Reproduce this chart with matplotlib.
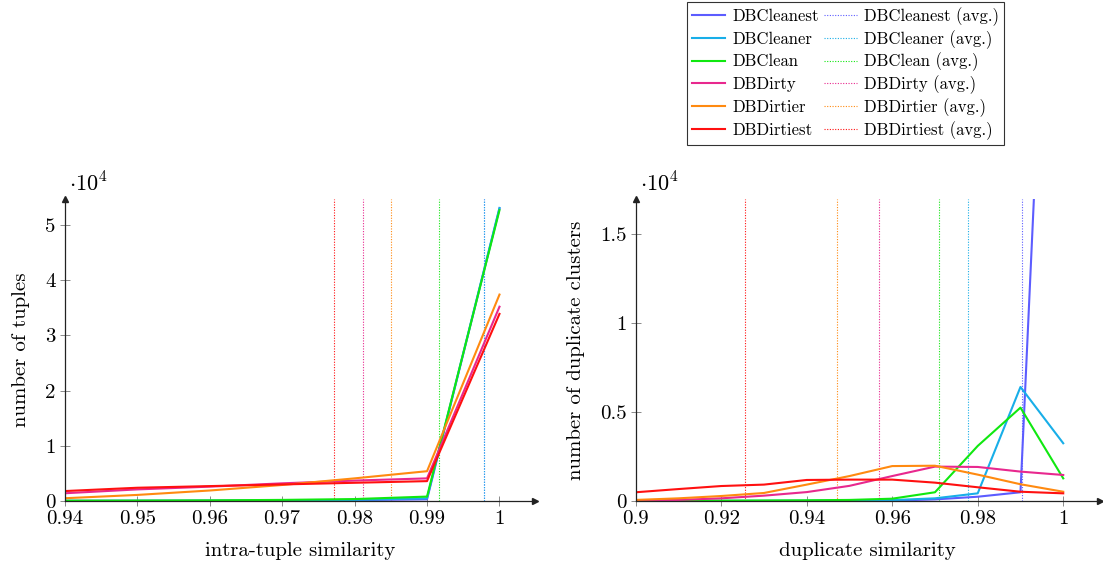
import matplotlib
matplotlib.use("Agg")
import matplotlib.pyplot as plt
from matplotlib.lines import Line2D

plt.rcParams["font.family"] = ["cmr10", "DejaVu Serif"]
plt.rcParams["mathtext.fontset"] = "cm"
plt.rcParams["axes.formatter.use_mathtext"] = True

# ---- data -------------------------------------------------------------
series = ["DBCleanest", "DBCleaner", "DBClean", "DBDirty", "DBDirtier", "DBDirtiest"]
colors = ["#5c5cff", "#18aee8", "#10e810", "#e8288e", "#ff8a10", "#ff1010"]

# intra-tuple similarity -> number of tuples
x_tuple = [0.94, 0.95, 0.96, 0.97, 0.98, 0.99, 1.00]
tuples_cleanest = [20, 30, 50, 80, 150, 300, 53000]
tuples_cleaner = [30, 40, 60, 100, 200, 500, 53100]
tuples_clean = [60, 80, 120, 200, 350, 800, 52700]
tuples_dirty = [1400, 2100, 2600, 3200, 3700, 4100, 35200]
tuples_dirtier = [500, 1100, 1900, 2900, 4100, 5400, 37400]
tuples_dirtiest = [1800, 2400, 2700, 3000, 3300, 3600, 33900]
tuples_avg = [0.9979, 0.9979, 0.9917, 0.9812, 0.9850, 0.9772]

# duplicate similarity -> number of duplicate clusters
x_dup = [0.90, 0.91, 0.92, 0.93, 0.94, 0.95, 0.96, 0.97, 0.98, 0.99, 1.00]
dup_cleanest = [0, 0, 0, 0, 0, 10, 20, 90, 240, 490, 53000]
dup_cleaner = [10, 10, 10, 10, 20, 30, 50, 150, 430, 6400, 3240]
dup_clean = [20, 20, 20, 30, 40, 60, 130, 490, 3090, 5240, 1270]
dup_dirty = [20, 60, 150, 300, 500, 850, 1400, 1930, 1910, 1650, 1460]
dup_dirtier = [60, 150, 280, 450, 920, 1400, 1960, 1980, 1480, 940, 520]
dup_dirtiest = [490, 670, 840, 920, 1180, 1200, 1200, 1030, 770, 520, 430]
dup_avg = [0.9903, 0.9777, 0.9709, 0.9569, 0.9471, 0.9255]

left_xticks = [0.94, 0.95, 0.96, 0.97, 0.98, 0.99, 1.00]
left_xticklabels = ["0.94", "0.95", "0.96", "0.97", "0.98", "0.99", "1"]
left_yticks = [0, 1, 2, 3, 4, 5]
right_xticks = [0.90, 0.92, 0.94, 0.96, 0.98, 1.00]
right_xticklabels = ["0.9", "0.92", "0.94", "0.96", "0.98", "1"]
right_yticks = [0, 0.5, 1, 1.5]
right_yticklabels = ["0", "0.5", "1", "1.5"]

# ---- figure -----------------------------------------------------------
W, H = 1103, 568
DPI = 100
fig = plt.figure(figsize=(W / DPI, H / DPI), dpi=DPI)

ax1 = fig.add_axes([64.7 / W, 1 - 501 / H, (535 - 64.7) / W, (501 - 199.3) / H])
ax2 = fig.add_axes([635.7 / W, 1 - 501 / H, (1100 - 635.7) / W, (501 - 199.3) / H])

fs = 15
dot = (0, (1, 1.4))


def style_axis(ax, xlim, ylim):
    ax.set_xlim(*xlim)
    ax.set_ylim(*ylim)
    for s in ["top", "right"]:
        ax.spines[s].set_visible(False)
    for s in ["left", "bottom"]:
        ax.spines[s].set_linewidth(0.9)
        ax.spines[s].set_color("#222222")
    ax.tick_params(direction="inout", length=7, width=0.6, color="#777777",
                   labelsize=fs, pad=3)
    # arrow heads at the end of each axis line
    ax.plot(1, 0, ">", color="#222222", markersize=5, transform=ax.transAxes,
            clip_on=False)
    ax.plot(0, 1, "^", color="#222222", markersize=5, transform=ax.transAxes,
            clip_on=False)
    ax.text(0.01, 1.012, r"$\cdot 10^4$", transform=ax.transAxes, fontsize=fs + 1,
            ha="left", va="bottom")


left_data = [tuples_cleanest, tuples_cleaner, tuples_clean,
             tuples_dirty, tuples_dirtier, tuples_dirtiest]
right_data = [dup_cleanest, dup_cleaner, dup_clean,
              dup_dirty, dup_dirtier, dup_dirtiest]

for vals, avg, c in zip(left_data, tuples_avg, colors):
    ax1.axvline(avg, color=c, lw=0.8, linestyle=dot, zorder=1)
for vals, c in zip(left_data, colors):
    ax1.plot(x_tuple, [v / 1e4 for v in vals], color=c, lw=1.5, zorder=2)

for vals, avg, c in zip(right_data, dup_avg, colors):
    ax2.axvline(avg, color=c, lw=0.8, linestyle=dot, zorder=1)
for vals, c in zip(right_data, colors):
    ax2.plot(x_dup, [v / 1e4 for v in vals], color=c, lw=1.5, zorder=2)

style_axis(ax1, (0.94, 1.0049), (0, 5.466))
style_axis(ax2, (0.90, 1.0086), (0, 1.693))

ax1.set_xticks(left_xticks)
ax1.set_xticklabels(left_xticklabels)
ax1.set_yticks(left_yticks)
ax1.set_yticklabels([str(v) for v in left_yticks])
ax2.set_xticks(right_xticks)
ax2.set_xticklabels(right_xticklabels)
ax2.set_yticks(right_yticks)
ax2.set_yticklabels(right_yticklabels)

ax1.set_xlabel("intra-tuple similarity", fontsize=fs, labelpad=10)
ax1.set_ylabel("number of tuples", fontsize=fs, labelpad=11)
ax2.set_xlabel("duplicate similarity", fontsize=fs, labelpad=10)
ax2.set_ylabel("number of duplicate clusters", fontsize=fs, labelpad=11)

# ---- legend -----------------------------------------------------------
handles = [Line2D([], [], color=c, lw=1.5) for c in colors]
handles += [Line2D([], [], color=c, lw=0.8, linestyle=dot) for c in colors]
labels = series + [s + " (avg.)" for s in series]
leg_fs = 12
leg = fig.legend(handles, labels, ncol=2, loc="upper left",
                 bbox_to_anchor=(687 / W, 1 - 2 / H), fontsize=leg_fs,
                 frameon=True, fancybox=False, edgecolor="black",
                 handlelength=2.0, handletextpad=0.4, columnspacing=0.3,
                 labelspacing=0.3, borderpad=0.3, borderaxespad=0)
leg.get_frame().set_linewidth(0.8)

# labels with parentheses are taller than the plain ones; give both
# columns the same row pitch so their entries line up
fig.canvas.draw()
renderer = fig.canvas.get_renderer()
texts = leg.get_texts()
row_pitch_px = 22.8
px_per_pt = DPI / 72.0
columns = leg._legend_handle_box.get_children()
for col, txt in zip(columns, [texts[0], texts[6]]):
    h = txt.get_window_extent(renderer).height
    col.sep = max(row_pitch_px - h, 0) / px_per_pt

fig.savefig("out.png", dpi=DPI)
